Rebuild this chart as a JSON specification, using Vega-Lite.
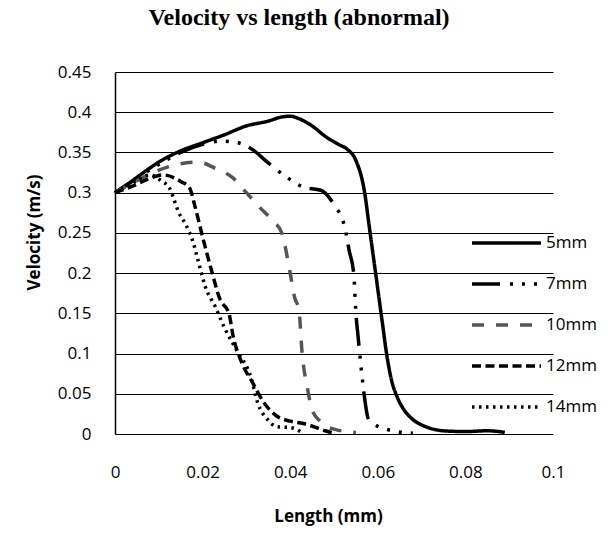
{
  "$schema": "https://vega.github.io/schema/vega-lite/v6.json",
  "autosize": {"type": "none"},
  "width": 438,
  "height": 362,
  "padding": {"left": 115, "top": 72, "right": 55, "bottom": 99},
  "background": "white",
  "title": {
    "text": "Velocity vs length (abnormal)",
    "font": "Liberation Serif",
    "fontSize": 24,
    "fontWeight": "bold",
    "color": "black",
    "anchor": "middle",
    "dx": -35,
    "offset": 33
  },
  "config": {
    "view": {"stroke": null},
    "axis": {
      "labelFont": "Open Sans",
      "labelFontSize": 17,
      "labelColor": "black",
      "titleFont": "Open Sans",
      "titleFontSize": 17,
      "titleFontWeight": "bold",
      "titleColor": "black",
      "ticks": false,
      "domainColor": "black",
      "domainWidth": 1.5
    },
    "legend": {
      "labelFont": "Open Sans",
      "labelFontSize": 17,
      "labelColor": "black"
    }
  },
  "data": {
    "values": [
      {"series": "5mm", "length": 0, "velocity": 0.300},
      {"series": "5mm", "length": 0.003, "velocity": 0.311},
      {"series": "5mm", "length": 0.006, "velocity": 0.323},
      {"series": "5mm", "length": 0.010, "velocity": 0.338},
      {"series": "5mm", "length": 0.015, "velocity": 0.352},
      {"series": "5mm", "length": 0.020, "velocity": 0.362},
      {"series": "5mm", "length": 0.025, "velocity": 0.372},
      {"series": "5mm", "length": 0.030, "velocity": 0.383},
      {"series": "5mm", "length": 0.035, "velocity": 0.389},
      {"series": "5mm", "length": 0.038, "velocity": 0.394},
      {"series": "5mm", "length": 0.040, "velocity": 0.395},
      {"series": "5mm", "length": 0.042, "velocity": 0.392},
      {"series": "5mm", "length": 0.045, "velocity": 0.383},
      {"series": "5mm", "length": 0.048, "velocity": 0.370},
      {"series": "5mm", "length": 0.051, "velocity": 0.360},
      {"series": "5mm", "length": 0.053, "velocity": 0.354},
      {"series": "5mm", "length": 0.055, "velocity": 0.340},
      {"series": "5mm", "length": 0.057, "velocity": 0.300},
      {"series": "5mm", "length": 0.058, "velocity": 0.260},
      {"series": "5mm", "length": 0.059, "velocity": 0.220},
      {"series": "5mm", "length": 0.060, "velocity": 0.180},
      {"series": "5mm", "length": 0.061, "velocity": 0.140},
      {"series": "5mm", "length": 0.062, "velocity": 0.100},
      {"series": "5mm", "length": 0.063, "velocity": 0.070},
      {"series": "5mm", "length": 0.0645, "velocity": 0.045},
      {"series": "5mm", "length": 0.066, "velocity": 0.030},
      {"series": "5mm", "length": 0.068, "velocity": 0.018},
      {"series": "5mm", "length": 0.071, "velocity": 0.009},
      {"series": "5mm", "length": 0.075, "velocity": 0.004},
      {"series": "5mm", "length": 0.080, "velocity": 0.003},
      {"series": "5mm", "length": 0.085, "velocity": 0.004},
      {"series": "5mm", "length": 0.089, "velocity": 0.002},

      {"series": "7mm", "length": 0, "velocity": 0.300},
      {"series": "7mm", "length": 0.005, "velocity": 0.318},
      {"series": "7mm", "length": 0.010, "velocity": 0.335},
      {"series": "7mm", "length": 0.015, "velocity": 0.350},
      {"series": "7mm", "length": 0.020, "velocity": 0.360},
      {"series": "7mm", "length": 0.024, "velocity": 0.364},
      {"series": "7mm", "length": 0.028, "velocity": 0.362},
      {"series": "7mm", "length": 0.031, "velocity": 0.355},
      {"series": "7mm", "length": 0.035, "velocity": 0.337},
      {"series": "7mm", "length": 0.039, "velocity": 0.320},
      {"series": "7mm", "length": 0.043, "velocity": 0.307},
      {"series": "7mm", "length": 0.047, "velocity": 0.303},
      {"series": "7mm", "length": 0.050, "velocity": 0.285},
      {"series": "7mm", "length": 0.0525, "velocity": 0.256},
      {"series": "7mm", "length": 0.0535, "velocity": 0.227},
      {"series": "7mm", "length": 0.0545, "velocity": 0.200},
      {"series": "7mm", "length": 0.055, "velocity": 0.150},
      {"series": "7mm", "length": 0.0555, "velocity": 0.121},
      {"series": "7mm", "length": 0.056, "velocity": 0.093},
      {"series": "7mm", "length": 0.0565, "velocity": 0.067},
      {"series": "7mm", "length": 0.058, "velocity": 0.017},
      {"series": "7mm", "length": 0.0626, "velocity": 0.005},
      {"series": "7mm", "length": 0.068, "velocity": 0.001},

      {"series": "10mm", "length": 0, "velocity": 0.300},
      {"series": "10mm", "length": 0.005, "velocity": 0.315},
      {"series": "10mm", "length": 0.010, "velocity": 0.328},
      {"series": "10mm", "length": 0.015, "velocity": 0.336},
      {"series": "10mm", "length": 0.019, "velocity": 0.338},
      {"series": "10mm", "length": 0.023, "velocity": 0.330},
      {"series": "10mm", "length": 0.027, "velocity": 0.318},
      {"series": "10mm", "length": 0.030, "velocity": 0.300},
      {"series": "10mm", "length": 0.033, "velocity": 0.282},
      {"series": "10mm", "length": 0.036, "velocity": 0.265},
      {"series": "10mm", "length": 0.038, "velocity": 0.251},
      {"series": "10mm", "length": 0.040, "velocity": 0.200},
      {"series": "10mm", "length": 0.041, "velocity": 0.170},
      {"series": "10mm", "length": 0.042, "velocity": 0.154},
      {"series": "10mm", "length": 0.0427, "velocity": 0.102},
      {"series": "10mm", "length": 0.044, "velocity": 0.055},
      {"series": "10mm", "length": 0.045, "velocity": 0.030},
      {"series": "10mm", "length": 0.047, "velocity": 0.015},
      {"series": "10mm", "length": 0.050, "velocity": 0.006},
      {"series": "10mm", "length": 0.055, "velocity": 0.002},

      {"series": "12mm", "length": 0, "velocity": 0.300},
      {"series": "12mm", "length": 0.004, "velocity": 0.308},
      {"series": "12mm", "length": 0.008, "velocity": 0.318},
      {"series": "12mm", "length": 0.011, "velocity": 0.322},
      {"series": "12mm", "length": 0.015, "velocity": 0.314},
      {"series": "12mm", "length": 0.017, "velocity": 0.306},
      {"series": "12mm", "length": 0.0183, "velocity": 0.282},
      {"series": "12mm", "length": 0.020, "velocity": 0.245},
      {"series": "12mm", "length": 0.022, "velocity": 0.204},
      {"series": "12mm", "length": 0.024, "velocity": 0.167},
      {"series": "12mm", "length": 0.026, "velocity": 0.150},
      {"series": "12mm", "length": 0.027, "velocity": 0.121},
      {"series": "12mm", "length": 0.029, "velocity": 0.088},
      {"series": "12mm", "length": 0.0315, "velocity": 0.063},
      {"series": "12mm", "length": 0.034, "velocity": 0.039},
      {"series": "12mm", "length": 0.037, "velocity": 0.022},
      {"series": "12mm", "length": 0.040, "velocity": 0.016},
      {"series": "12mm", "length": 0.043, "velocity": 0.013},
      {"series": "12mm", "length": 0.046, "velocity": 0.008},
      {"series": "12mm", "length": 0.048, "velocity": 0.004},
      {"series": "12mm", "length": 0.050, "velocity": 0.001},

      {"series": "14mm", "length": 0, "velocity": 0.300},
      {"series": "14mm", "length": 0.004, "velocity": 0.312},
      {"series": "14mm", "length": 0.008, "velocity": 0.322},
      {"series": "14mm", "length": 0.0105, "velocity": 0.315},
      {"series": "14mm", "length": 0.0125, "velocity": 0.305},
      {"series": "14mm", "length": 0.0135, "velocity": 0.291},
      {"series": "14mm", "length": 0.0145, "velocity": 0.276},
      {"series": "14mm", "length": 0.016, "velocity": 0.262},
      {"series": "14mm", "length": 0.0178, "velocity": 0.239},
      {"series": "14mm", "length": 0.019, "velocity": 0.215},
      {"series": "14mm", "length": 0.0205, "velocity": 0.185},
      {"series": "14mm", "length": 0.023, "velocity": 0.157},
      {"series": "14mm", "length": 0.025, "velocity": 0.132},
      {"series": "14mm", "length": 0.028, "velocity": 0.102},
      {"series": "14mm", "length": 0.031, "velocity": 0.071},
      {"series": "14mm", "length": 0.0325, "velocity": 0.040},
      {"series": "14mm", "length": 0.035, "velocity": 0.017},
      {"series": "14mm", "length": 0.037, "velocity": 0.009},
      {"series": "14mm", "length": 0.040, "velocity": 0.008},
      {"series": "14mm", "length": 0.043, "velocity": 0.001}
    ]
  },
  "mark": {"type": "line", "interpolate": "monotone"},
  "encoding": {
    "x": {
      "field": "length",
      "type": "quantitative",
      "title": "Length (mm)",
      "scale": {"domain": [0, 0.1], "nice": false},
      "axis": {"values": [0, 0.02, 0.04, 0.06, 0.08, 0.1], "format": ".2~f", "grid": false, "labelPadding": 30, "titlePadding": 28, "titleX": 213, "domain": false, "labelFlush": false}
    },
    "y": {
      "field": "velocity",
      "type": "quantitative",
      "title": "Velocity (m/s)",
      "scale": {"domain": [0, 0.45], "nice": false},
      "axis": {"values": [0, 0.05, 0.1, 0.15, 0.2, 0.25, 0.3, 0.35, 0.4, 0.45], "format": ".2~f", "grid": true, "gridColor": "black", "gridOpacity": 1, "gridWidth": 1.2, "labelPadding": 24, "titlePadding": 14, "titleY": 160, "labelFlush": false}
    },
    "color": {
      "field": "series",
      "type": "nominal",
      "scale": {"domain": ["5mm", "7mm", "10mm", "12mm", "14mm"], "range": ["black", "black", "#555555", "black", "black"]},
      "legend": {
        "title": null,
        "orient": "none",
        "legendX": 355,
        "legendY": 156,
        "symbolType": "stroke",
        "symbolSize": 4761,
        "clipHeight": 30,
        "rowPadding": 11,
        "labelOffset": 3
      }
    },
    "strokeDash": {
      "field": "series",
      "type": "nominal",
      "scale": {"domain": ["5mm", "7mm", "10mm", "12mm", "14mm"], "range": [[1, 0], [28, 10, 3, 9, 3, 9, 3, 9], [12, 12], [9, 4.5], [2.5, 4.5]]},
      "legend": null
    },
    "strokeWidth": {
      "field": "series",
      "type": "nominal",
      "scale": {"domain": ["5mm", "7mm", "10mm", "12mm", "14mm"], "range": [3.5, 3.5, 1.5, 3.5, 2.5]},
      "legend": null
    }
  }
}
